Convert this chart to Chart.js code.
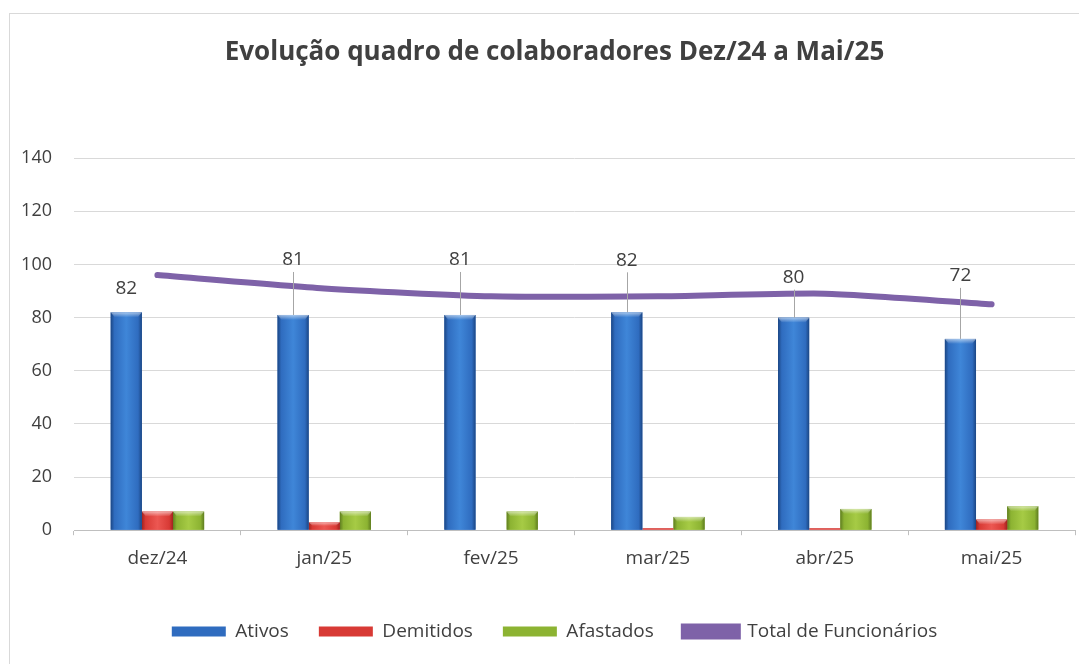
<!DOCTYPE html>
<html>
<head>
<meta charset="utf-8">
<script src="https://cdn.jsdelivr.net/npm/chart.js@4/dist/chart.umd.min.js"></script>
<style>
  html, body { margin: 0; padding: 0; background: #fff; }
  #wrap { position: relative; width: 1079px; height: 664px; overflow: hidden; }
  #frame { position: absolute; left: 9px; top: 13px; width: 1100px; height: 700px; border: 1px solid #d9d9d9; }
  canvas { position: absolute; left: 0; top: 0; }
</style>
</head>
<body>
<div id="wrap">
  <div id="frame"></div>
  <canvas id="chart" width="1079" height="664"></canvas>
</div>
<script>
const months = ['dez/24', 'jan/25', 'fev/25', 'mar/25', 'abr/25', 'mai/25'];
const ativos = [82, 81, 81, 82, 80, 72];
const demitidos = [7, 3, 0, 0.3, 0.3, 4];
const afastados = [7, 7, 7, 5, 8, 9];
const totalFuncionarios = [96, 91, 88, 88, 89, 85];
const yTicks = [0, 20, 40, 60, 80, 100, 120, 140];

const FONT = '"Open Sans", Lato, sans-serif';

// bevel-ish shading like the original Excel bars
const barShades = {
    0: ['#1b4684', '#2f6cbf', '#3f86d8', '#2f6cbf', '#1b4684'],
    1: ['#a0231f', '#d83a35', '#ec5752', '#d83a35', '#a0231f'],
    2: ['#5f7d20', '#8cb332', '#a6cb45', '#8cb332', '#5f7d20']
};

const bevelPlugin = {
    id: 'bevel',
    afterDatasetDraw(chart, args) {
        const shades = barShades[args.index];
        if (!shades) return;
        const ctx = chart.ctx;
        const values = chart.data.datasets[args.index].data;
        const meta = chart.getDatasetMeta(args.index);
        meta.data.forEach((bar, i) => {
            const w = bar.width;
            const left = bar.x - w / 2;
            const top = Math.min(bar.y, bar.base);
            const h = Math.abs(bar.base - bar.y);
            ctx.save();
            if (h < 1.5) {
                if (values[i] > 0) {
                    ctx.fillStyle = shades[1];
                    ctx.fillRect(left, bar.base - 1.5, w, 1.5);
                }
                ctx.restore();
                return;
            }
            const g = ctx.createLinearGradient(left, 0, left + w, 0);
            g.addColorStop(0, shades[0]);
            g.addColorStop(0.12, shades[1]);
            g.addColorStop(0.5, shades[2]);
            g.addColorStop(0.88, shades[1]);
            g.addColorStop(1, shades[0]);
            ctx.fillStyle = g;
            ctx.fillRect(left, top, w, h);
            // top bevel highlight
            const bh = Math.min(5, h / 2);
            const tg = ctx.createLinearGradient(0, top, 0, top + bh);
            tg.addColorStop(0, 'rgba(255,255,255,0.55)');
            tg.addColorStop(1, 'rgba(255,255,255,0)');
            ctx.fillStyle = tg;
            ctx.beginPath();
            ctx.moveTo(left, top);
            ctx.lineTo(left + w, top);
            ctx.lineTo(left + w - 4, top + bh);
            ctx.lineTo(left + 4, top + bh);
            ctx.closePath();
            ctx.fill();
            ctx.restore();
        });
    }
};

// value labels over the "Ativos" bars, lifted above the bar top (px) like the original
const labelLift = [24, 55, 55, 52, 40, 63];
const ativosLabels = {
    id: 'ativosLabels',
    afterDatasetsDraw(chart) {
        const ctx = chart.ctx;
        const meta = chart.getDatasetMeta(0);
        ctx.save();
        ctx.font = '19px ' + FONT;
        ctx.fillStyle = '#404040';
        ctx.textAlign = 'center';
        ctx.textBaseline = 'middle';
        meta.data.forEach((bar, i) => {
            const ly = bar.y - labelLift[i];
            ctx.fillText(String(ativos[i]), bar.x, ly);
            if (labelLift[i] > 30) {
                ctx.strokeStyle = '#a6a6a6';
                ctx.lineWidth = 1;
                ctx.beginPath();
                ctx.moveTo(Math.round(bar.x) + 0.5, ly + 12);
                ctx.lineTo(Math.round(bar.x) + 0.5, bar.y);
                ctx.stroke();
            }
        });
        ctx.restore();
    }
};

// title and legend sit a bit right of the canvas centre in the original
const shiftBlocks = {
    id: 'shiftBlocks',
    afterLayout(chart) {
        chart.titleBlock.left += 34;
        chart.legend.left += 34;
    }
};

new Chart(document.getElementById('chart'), {
    type: 'bar',
    data: {
        labels: months,
        datasets: [
            { label: 'Ativos', data: ativos, backgroundColor: '#2f6cbf', order: 2 },
            { label: 'Demitidos', data: demitidos, backgroundColor: '#d83a35', order: 2 },
            { label: 'Afastados', data: afastados, backgroundColor: '#8cb332', order: 2 },
            {
                type: 'line', label: 'Total de Funcionários', data: totalFuncionarios,
                borderColor: '#7e62a8', backgroundColor: '#7e62a8',
                borderWidth: 6, pointRadius: 0, tension: 0.2, order: 1,
                borderCapStyle: 'round'
            }
        ]
    },
    options: {
        responsive: false,
        animation: false,
        layout: { padding: { left: 0, right: 4, top: 0, bottom: 13 } },
        datasets: {
            bar: { categoryPercentage: 0.56, barPercentage: 1.0 }
        },
        plugins: {
            title: {
                display: true,
                text: 'Evolução quadro de colaboradores Dez/24 a Mai/25',
                color: '#404040',
                font: { family: FONT, size: 26, weight: 'bold' },
                padding: { top: 37, bottom: 90 }
            },
            legend: {
                position: 'bottom',
                labels: {
                    color: '#404040',
                    font: { family: FONT, size: 19 },
                    boxWidth: 54,
                    boxHeight: 10,
                    padding: 30,
                    sort: (a, b) => a.datasetIndex - b.datasetIndex
                }
            },
            tooltip: { enabled: false }
        },
        scales: {
            x: {
                afterFit(scale) { scale.height += 10; },
                grid: { drawOnChartArea: false, drawTicks: true, tickLength: 5, offset: true, color: '#bfbfbf' },
                border: { color: '#bfbfbf' },
                ticks: { color: '#404040', font: { family: FONT, size: 19 }, padding: 12 }
            },
            y: {
                min: 0,
                max: 140,
                afterBuildTicks(scale) { scale.ticks = yTicks.map(v => ({ value: v })); },
                afterFit(scale) { scale.width = 74; },
                grid: { color: '#d9d9d9', drawTicks: false },
                border: { display: false },
                ticks: { color: '#404040', font: { family: FONT, size: 18 }, padding: 22 }
            }
        }
    },
    plugins: [bevelPlugin, ativosLabels, shiftBlocks]
});
</script>
</body>
</html>
